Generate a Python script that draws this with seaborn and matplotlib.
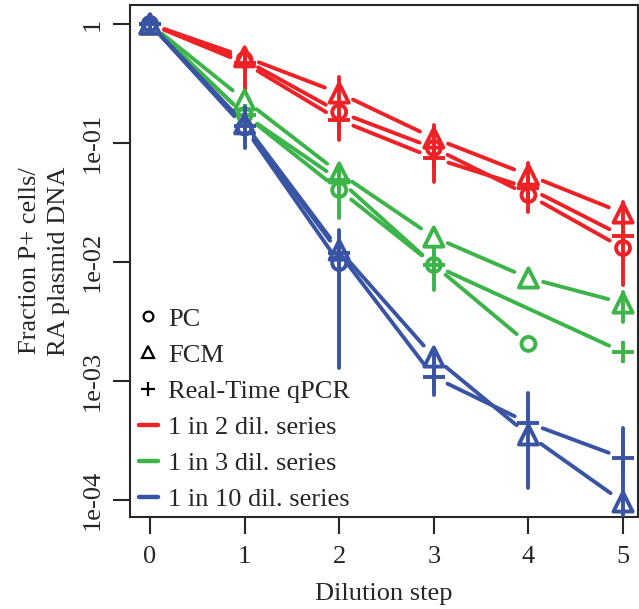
"""Dilution series: fraction of positive cells per method, log scale."""

import matplotlib

matplotlib.use("Agg")
import matplotlib.pyplot as plt
from matplotlib.lines import Line2D
from matplotlib.ticker import FixedLocator, NullLocator
import numpy as np
import pandas as pd
import seaborn as sns

# ── data ──
steps = [0, 1, 2, 3, 4, 5]
nan = np.nan

red_pc = [1.0, 0.50, 0.182, 0.0908, 0.0366, 0.0131]
red_fcm = [1.0, 0.53, 0.263, 0.110, 0.0538, 0.0258]
red_pcr = [1.0, 0.47, 0.156, 0.0748, 0.0419, 0.0165]
red_err_lo = [nan, 0.279, 0.106, 0.047, 0.0263, 0.0064]
red_err_hi = [nan, 0.605, 0.359, 0.1417, 0.0679, 0.0319]

green_pc = [1.0, 0.172, 0.0403, 0.00944, 0.00205, nan]
green_fcm = [1.0, 0.23, 0.056, 0.0162, 0.00734, 0.00452]
green_pcr = [1.0, 0.172, 0.049, 0.0094, nan, 0.00175]
green_err_lo = [nan, nan, 0.0234, 0.00582, nan, 0.00313]
green_err_hi = [nan, nan, 0.0617, 0.0131, nan, 0.0056]

blue_pc = [1.0, 0.135, 0.0098, nan, nan, nan]
blue_fcm = [1.0, 0.145, 0.0126, 0.00159, 0.000352, 0.0000962]
blue_pcr = [1.0, 0.140, 0.0119, 0.00108, 0.000444, 0.000225]
blue_err_lo = [nan, 0.0908, 0.00129, 0.00076, 0.000126, 0.000072]
blue_err_hi = [nan, 0.201, 0.0186, 0.00182, 0.00079, 0.000403]

method_labels = ["PC", "FCM", "Real-Time qPCR"]
series_labels = ["1 in 2 dil. series", "1 in 3 dil. series", "1 in 10 dil. series"]
y_ticks = [1, 1e-1, 1e-2, 1e-3, 1e-4]
y_tick_labels = ["1", "1e-01", "1e-02", "1e-03", "1e-04"]

# ── styling ──
sns.set_style("ticks")
plt.rcParams["font.family"] = ["Liberation Serif", "DejaVu Serif"]
plt.rcParams["font.size"] = 19

colors = ["#EC2227", "#3CB44A", "#3A54A4"]
markers = {"PC": "o", "FCM": "^", "Real-Time qPCR": "+"}
marker_size = {"PC": 100, "FCM": 190, "Real-Time qPCR": 260}
LW = 2.8
GAP = 11  # points of blank line around each marker (R type = "b")

groups = [
    (colors[0], [red_pc, red_fcm, red_pcr], red_err_lo, red_err_hi),
    (colors[1], [green_pc, green_fcm, green_pcr], green_err_lo, green_err_hi),
    (colors[2], [blue_pc, blue_fcm, blue_pcr], blue_err_lo, blue_err_hi),
]

fig = plt.figure(figsize=(6.39, 6.09), dpi=100)
ax = fig.add_axes([130 / 639, 92 / 609, 508 / 639, 512 / 609])
ax.set_yscale("log")
ax.set_xlim(-0.211, 5.158)
ax.set_ylim(10 ** -4.143, 10 ** 0.16)

for z, (color, method_values, err_lo, err_hi) in enumerate(groups, start=2):
    for method, values in zip(method_labels, method_values):
        df = pd.DataFrame({"step": steps, "value": values}).dropna()
        # broken connecting lines
        pts = list(zip(df["step"], df["value"]))
        for p0, p1 in zip(pts[:-1], pts[1:]):
            ax.annotate(
                "", xy=p1, xytext=p0, xycoords="data",
                arrowprops=dict(arrowstyle="-", color=color, lw=LW,
                                shrinkA=GAP, shrinkB=GAP, capstyle="round"),
                zorder=z,
            )
        kws = dict(color=color) if method == "Real-Time qPCR" else dict(facecolors="none", edgecolor=color)
        sns.scatterplot(
            data=df, x="step", y="value", marker=markers[method],
            s=marker_size[method], linewidth=LW, ax=ax, zorder=z, legend=False, **kws,
        )
    err = pd.DataFrame({"step": steps, "lo": err_lo, "hi": err_hi}).dropna()
    ax.vlines(err["step"], err["lo"], err["hi"], color=color, lw=LW, zorder=z, capstyle="round")

# ── axes ──
ax.set_xticks(steps)
ax.yaxis.set_major_locator(FixedLocator(y_ticks))
ax.yaxis.set_minor_locator(NullLocator())
ax.set_yticklabels(y_tick_labels, rotation=90, va="center")
ax.tick_params(axis="both", length=12, width=1.5, labelsize=19)
ax.tick_params(axis="x", pad=9)
ax.tick_params(axis="y", pad=7)
for spine in ax.spines.values():
    spine.set_linewidth(1.5)
ax.set_xlabel("Dilution step", fontsize=19, labelpad=11)
ax.set_ylabel("Fraction P+ cells/\nRA plasmid DNA", fontsize=19, labelpad=8, linespacing=1.45)

# ── legend ──
handles = [
    Line2D([], [], ls="none", marker="o", mfc="none", mec="black", ms=7, mew=1.6),
    Line2D([], [], ls="none", marker="^", mfc="none", mec="black", ms=8, mew=1.6),
    Line2D([], [], ls="none", marker="+", mec="black", ms=10, mew=1.6),
] + [Line2D([], [], color=c, lw=3.2) for c in colors]
ax.legend(
    handles, method_labels + series_labels, loc="upper left",
    bbox_to_anchor=(0.018, 0.41), frameon=False, fontsize=19,
    handlelength=0.7, handletextpad=0.4, labelspacing=0.48,
    borderpad=0, borderaxespad=0,
)

fig.savefig("out.png", dpi=100)
